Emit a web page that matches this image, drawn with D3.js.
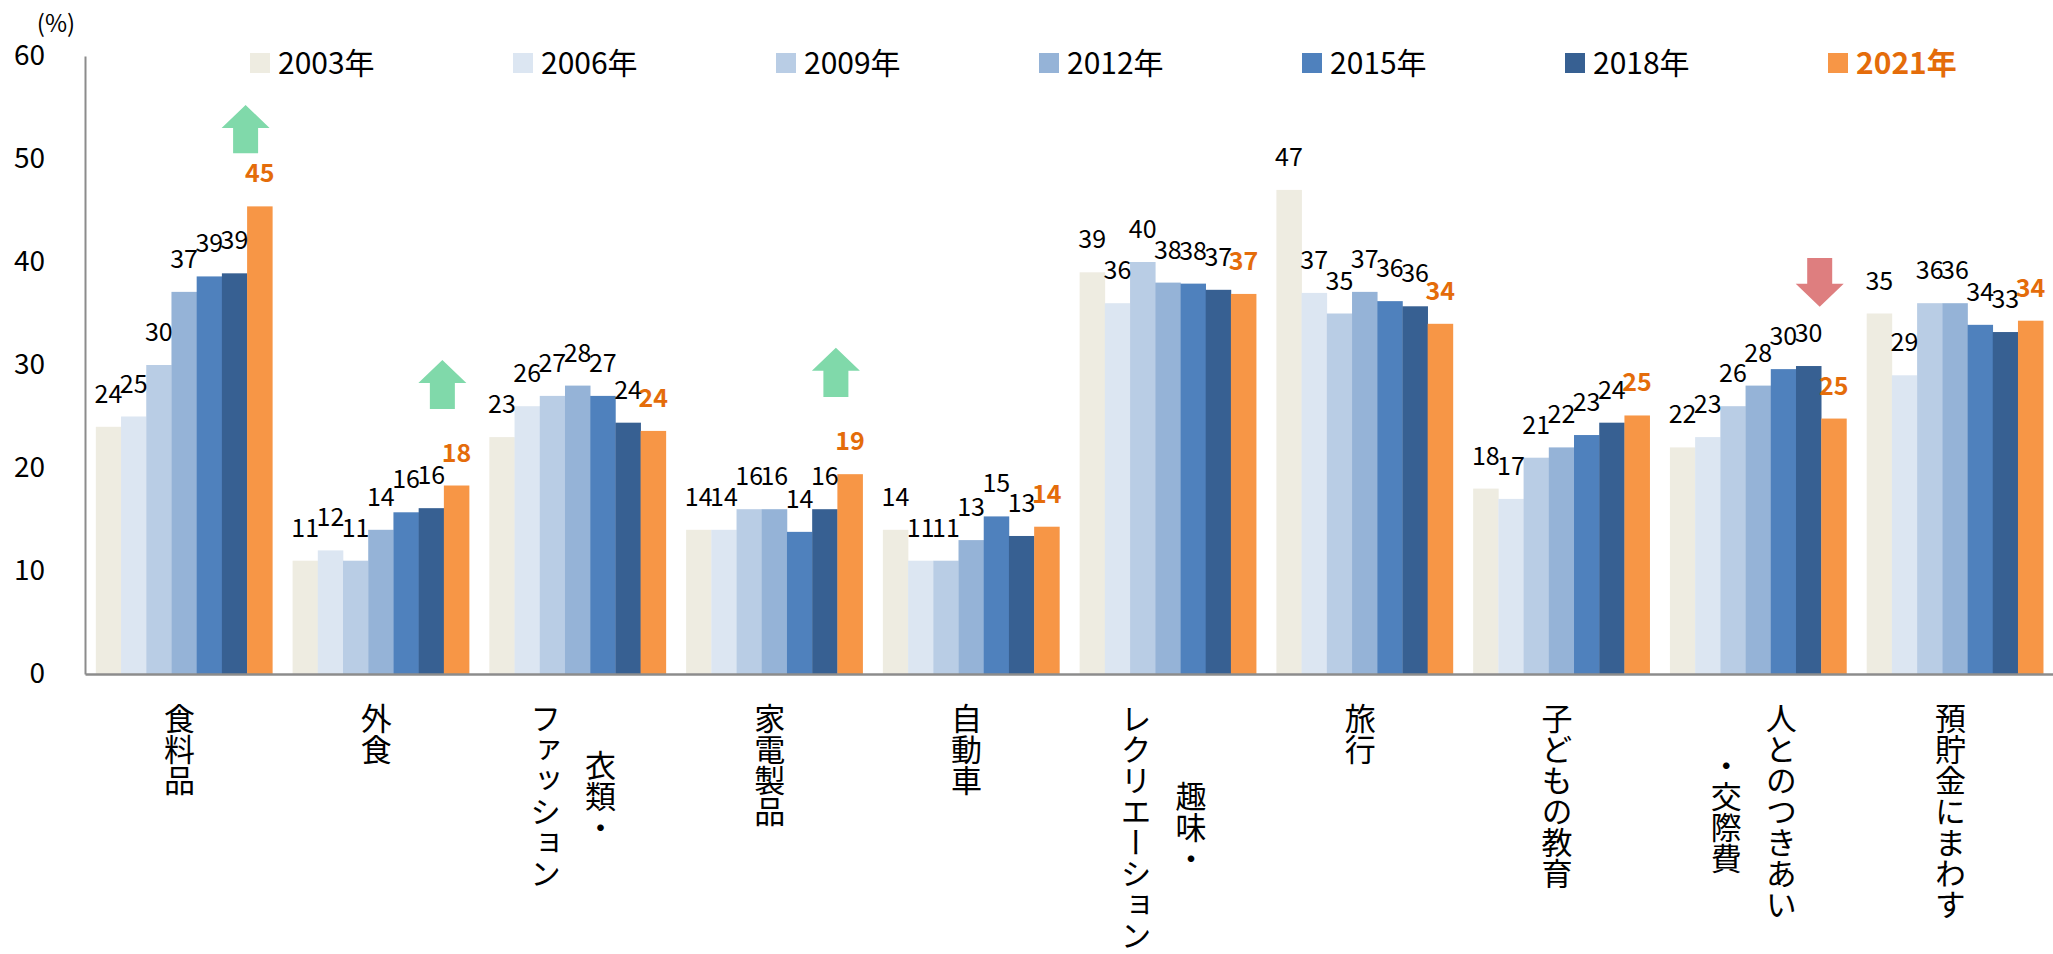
<!DOCTYPE html>
<html>
<head>
<meta charset="utf-8">
<script src="https://cdn.jsdelivr.net/npm/d3@7"></script>
<style>
  html, body { margin: 0; padding: 0; background: #fff; }
  svg { display: block; font-family: "Noto Sans CJK JP", "Noto Sans", sans-serif; }
</style>
</head>
<body>
<svg id="chart" width="2053" height="954"></svg>
<script>
// ---------- data ----------
const categories = ['食料品', '外食', '衣類・ファッション', '家電製品', '自動車',
  '趣味・レクリエーション', '旅行', '子どもの教育', '人とのつきあい・交際費', '預貯金にまわす'];
const categoryLabelLines = [['食料品'], ['外食'], ['衣類・', 'ファッション'], ['家電製品'], ['自動車'],
  ['趣味・', 'レクリエーション'], ['旅行'], ['子どもの教育'], ['人とのつきあい', '・交際費'], ['預貯金にまわす']];
const years = ['2003年', '2006年', '2009年', '2012年', '2015年', '2018年', '2021年'];
const values2003 = [24.0, 11.0, 23.0, 14.0, 14.0, 39.0, 47.0, 18.0, 22.0, 35.0];
const values2006 = [25.0, 12.0, 26.0, 14.0, 11.0, 36.0, 37.0, 17.0, 23.0, 29.0];
const values2009 = [30.0, 11.0, 27.0, 16.0, 11.0, 40.0, 35.0, 21.0, 26.0, 36.0];
const values2012 = [37.1, 14.0, 28.0, 16.0, 13.0, 38.0, 37.1, 22.0, 28.0, 36.0];
const values2015 = [38.6, 15.7, 27.0, 13.8, 15.3, 37.9, 36.2, 23.2, 29.6, 33.9];
const values2018 = [38.9, 16.1, 24.4, 16.0, 13.4, 37.3, 35.7, 24.4, 29.9, 33.2];
const values2021 = [45.4, 18.3, 23.6, 19.4, 14.3, 36.9, 34.0, 25.1, 24.8, 34.3];
const yTicks = [0, 10, 20, 30, 40, 50, 60];
const unitLabel = '(%)';
// change arrows (annotation, in data units: tail value -> tip value)
const arrowCategories = ['食料品', '外食', '家電製品', '人とのつきあい・交際費'];
const arrowTails = [50.55, 25.73, 26.89, 40.39];
const arrowTips = [55.24, 30.49, 31.68, 35.66];

// ---------- styles ----------
const seriesValues = [values2003, values2006, values2009, values2012, values2015, values2018, values2021];
const colors = ['#EEECE1', '#DCE6F2', '#B9CDE5', '#95B3D7', '#4F81BD', '#376092', '#F79646'];
const highlightText = '#E46C0A';
const axisColor = '#8C8C8C';

const svg = d3.select('#chart');

const x = d3.scaleBand().domain(categories).range([85, 2054]).paddingInner(0.103).paddingOuter(0.055);
const x1 = d3.scaleBand().domain(years).range([0, x.bandwidth()]);
const y = d3.scaleLinear().domain([0, 60]).range([674, 56]);

const rows = [];
categories.forEach((c, i) => {
  years.forEach((yr, j) => rows.push({ cat: c, year: yr, j: j, v: seriesValues[j][i] }));
});

// bars
svg.append('g').selectAll('rect').data(rows).join('rect')
  .attr('x', d => x(d.cat) + x1(d.year))
  .attr('y', d => y(d.v))
  .attr('width', x1.bandwidth() + 0.3)
  .attr('height', d => y(0) - y(d.v))
  .attr('fill', d => colors[d.j]);

// y axis
const yAxis = svg.append('g').attr('transform', 'translate(85,0)')
  .call(d3.axisLeft(y).tickValues(yTicks).tickSize(0).tickPadding(40).tickFormat(d3.format('d')));
yAxis.select('.domain').attr('stroke', axisColor).attr('stroke-width', 2);
yAxis.selectAll('text').attr('font-size', 28).attr('fill', '#000')
  .attr('font-family', '"Noto Sans CJK JP", sans-serif');

// x axis baseline
const xAxis = svg.append('g').attr('transform', `translate(0,${y(0)})`)
  .call(d3.axisBottom(x).tickSize(0).tickFormat(''));
xAxis.select('.domain').attr('stroke', axisColor).attr('stroke-width', 2.5);

// unit label
svg.append('text').attr('x', 56).attr('y', 32).attr('text-anchor', 'middle')
  .attr('font-size', 24).attr('fill', '#000').text(unitLabel);

// data labels
svg.append('g').selectAll('text').data(rows).join('text')
  .attr('x', d => x(d.cat) + x1(d.year) + x1.bandwidth() / 2)
  .attr('y', d => y(d.v) - 24)
  .attr('text-anchor', 'middle')
  .attr('font-size', 25)
  .attr('font-weight', d => d.j === years.length - 1 ? 700 : 400)
  .attr('fill', d => d.j === years.length - 1 ? highlightText : '#000')
  .text(d => d3.format('.0f')(d.v));

// category labels (vertical)
const catFs = 31, colGap = 55, labelTop = 703;
const catG = svg.append('g');
categories.forEach((c, i) => {
  const lines = categoryLabelLines[i];
  const n = lines.length;
  const maxLen = d3.max(lines, l => l.length);
  const cx = x(c) + x.bandwidth() / 2 - 4.5;
  const cy = labelTop + maxLen * catFs / 2;
  lines.forEach((ln, j) => {
    catG.append('text')
      .attr('x', cx + ((n - 1) / 2 - j) * colGap)
      .attr('y', cy)
      .attr('text-anchor', 'middle')
      .style('writing-mode', 'vertical-rl')
      .attr('font-size', catFs)
      .attr('fill', '#000')
      .text(ln);
  });
});

// legend
const legend = svg.append('g');
years.forEach((yr, j) => {
  const lx = 250 + j * 263;
  legend.append('rect').attr('x', lx).attr('y', 53).attr('width', 20).attr('height', 20).attr('fill', colors[j]);
  legend.append('text').attr('x', lx + 28).attr('y', 74)
    .attr('font-size', 30)
    .attr('font-weight', j === years.length - 1 ? 700 : 400)
    .attr('fill', j === years.length - 1 ? highlightText : '#000')
    .text(yr);
});

// arrows
const arrowG = svg.append('g');
arrowCategories.forEach((c, i) => {
  const cx = x(c) + x1(years[years.length - 1]) - 1.5;
  const tail = y(arrowTails[i]);
  const tip = y(arrowTips[i]);
  const dir = tip < tail ? -1 : 1; // -1 up
  const headLen = 23, headW = 24, shaftW = 12.5;
  const neck = tip - dir * headLen;
  const p = d3.path();
  p.moveTo(cx, tip);
  p.lineTo(cx + headW, neck);
  p.lineTo(cx + shaftW, neck);
  p.lineTo(cx + shaftW, tail);
  p.lineTo(cx - shaftW, tail);
  p.lineTo(cx - shaftW, neck);
  p.lineTo(cx - headW, neck);
  p.closePath();
  arrowG.append('path').attr('d', p.toString()).attr('fill', dir < 0 ? '#80D9AA' : '#DE7E7F');
});
</script>
</body>
</html>
